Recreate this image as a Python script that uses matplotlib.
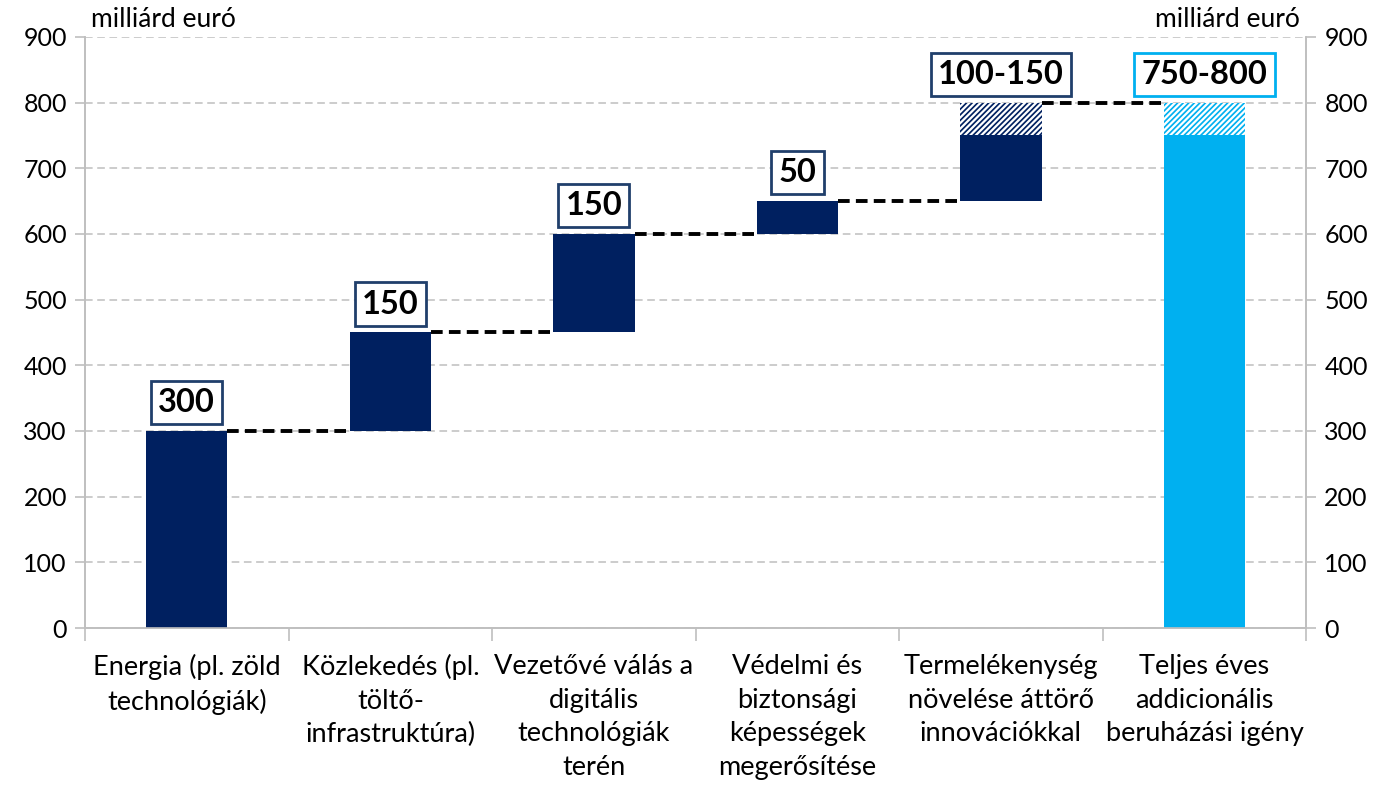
import numpy as np
import matplotlib.pyplot as plt
from matplotlib.ticker import FixedLocator

plt.rcParams['font.family'] = ['Lato', 'DejaVu Sans']
plt.rcParams['hatch.linewidth'] = 1.6

# adatok
categories = ['Energia (pl. zöld\ntechnológiák)',
              'Közlekedés (pl.\ntöltő-\ninfrastruktúra)',
              'Vezetővé válás a\ndigitális\ntechnológiák\nterén',
              'Védelmi és\nbiztonsági\nképességek\nmegerősítése',
              'Termelékenység\nnövelése áttörő\ninnovációkkal',
              'Teljes éves\naddicionális\nberuházási igény']
step_low = [300, 150, 150, 50, 100]
step_high = [300, 150, 150, 50, 150]
total_low = 750
total_high = 800
labels = ['300', '150', '150', '50', '100-150', '750-800']

navy = '#002060'
light = '#00B0F0'
box_edge = '#203F6B'
grid_c = '#BFBFBF'

fig = plt.figure(figsize=(13.8, 7.85), dpi=100)
ax = fig.add_axes([0.0616, 0.2, 0.885, 0.7529])

x = np.arange(len(categories))
w = 0.4
tops = np.cumsum(step_high)
bottoms = np.concatenate([[0], tops[:-1]])

# lépcsők
for i in range(len(step_low)):
    ax.bar(x[i], step_low[i], w, bottom=bottoms[i], color=navy, zorder=3)
    extra = step_high[i] - step_low[i]
    if extra > 0:
        ax.bar(x[i], extra, w, bottom=bottoms[i] + step_low[i], color=navy,
               edgecolor='white', hatch='//////', linewidth=0, zorder=3)
# összesen
ax.bar(x[-1], total_low, w, color=light, zorder=3)
ax.bar(x[-1], total_high - total_low, w, bottom=total_low, color=light,
       edgecolor='white', hatch='//////', linewidth=0, zorder=3)

# összekötő szaggatott vonalak
for i in range(len(tops)):
    ax.plot([x[i] + w / 2, x[i + 1] - w / 2], [tops[i], tops[i]],
            color='black', lw=2.8, ls=(0, (3, 1.6)), zorder=4)

# címkék dobozban
all_tops = list(tops) + [total_high]
for i, lab in enumerate(labels):
    ec = light if i == len(labels) - 1 else box_edge
    ax.annotate(lab, (x[i], all_tops[i]), xytext=(0, 10), textcoords='offset points',
                ha='center', va='bottom', fontsize=23.5, fontweight='bold', zorder=5,
                bbox=dict(boxstyle='square,pad=0.22', fc='white', ec=ec, lw=2))

ax.set_xlim(-0.5, len(categories) - 0.5)
ax.set_ylim(0, 900)
ax.set_yticks(range(0, 901, 100))
ax.yaxis.grid(True, color=grid_c, ls=(0, (5, 3)), lw=1.1, zorder=0)
ax.set_xticks(x)
ax.set_xticklabels(categories, fontsize=19.5, linespacing=1.42)
ax.xaxis.set_minor_locator(FixedLocator(np.arange(-0.5, len(categories), 1.0)))
ax.tick_params(axis='x', which='major', length=0, pad=19)
ax.tick_params(axis='x', which='minor', length=9, color=grid_c, width=1.2)
ax.tick_params(axis='y', length=7, color=grid_c, width=1.2, labelsize=18, pad=6)
for s in ['top']:
    ax.spines[s].set_visible(False)
for s in ['left', 'right', 'bottom']:
    ax.spines[s].set_color(grid_c)
    ax.spines[s].set_linewidth(1.2)

ax2 = ax.twinx()
ax2.set_ylim(0, 900)
ax2.set_yticks(range(0, 901, 100))
ax2.tick_params(axis='y', length=7, color=grid_c, width=1.2, labelsize=18, pad=6)
ax2.spines['top'].set_visible(False)
for s in ['left', 'right', 'bottom']:
    ax2.spines[s].set_color(grid_c)
    ax2.spines[s].set_linewidth(1.2)

fig.text(0.066, 0.975, 'milliárd euró', fontsize=19, ha='left', va='center')
fig.text(0.942, 0.975, 'milliárd euró', fontsize=19, ha='right', va='center')

fig.savefig('out.png', dpi=100)
